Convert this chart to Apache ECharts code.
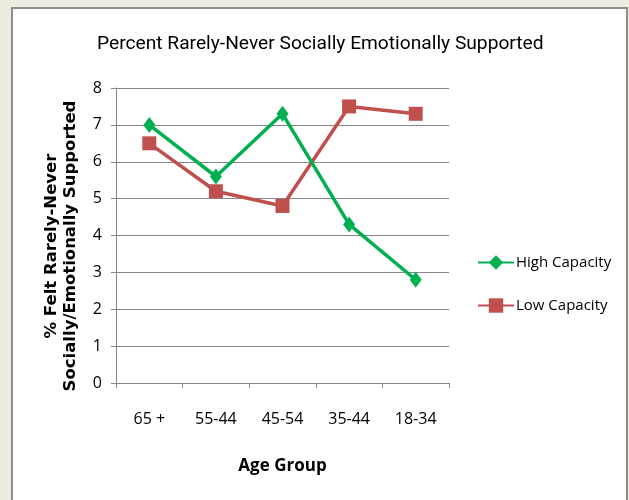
<!DOCTYPE html>
<html>
<head>
<meta charset="utf-8">
<script src="https://cdn.jsdelivr.net/npm/echarts@6/dist/echarts.min.js"></script>
<style>
  html, body { margin: 0; padding: 0; background: #eeebe0; }
  #chart { width: 629px; height: 500px; }
</style>
</head>
<body>
<div id="chart"></div>
<script>
// Age groups along the x axis
const ageGroups = ['65 +', '55-44', '45-54', '35-44', '18-34'];
// Percent who felt rarely or never socially/emotionally supported
const highCapacity = [7.0, 5.6, 7.3, 4.3, 2.8];
const lowCapacity = [6.5, 5.2, 4.8, 7.5, 7.3];
// Value axis range
const yMin = 0, yMax = 8, yStep = 1;

const sans = '"Open Sans", Roboto, sans-serif';
const titleFont = 'Roboto, "Open Sans", sans-serif';
const green = '#00b050';
const red = '#c0504d';

const chart = echarts.init(document.getElementById('chart'), null, { renderer: 'canvas' });
chart.setOption({
  backgroundColor: '#eeebe0',
  animation: false,
  title: {
    text: 'Percent Rarely-Never Socially Emotionally Supported',
    left: 97,
    top: 35,
    padding: 0,
    textStyle: { fontFamily: titleFont, fontSize: 19.2, fontWeight: 'normal', color: '#000' }
  },
  graphic: [
    {
      type: 'rect', z: -10, silent: true,
      shape: { x: 12, y: 8, width: 615, height: 500 },
      style: { fill: '#ffffff', stroke: '#8c8c8c', lineWidth: 2 }
    },
    {
      type: 'text', silent: true,
      x: 61, y: 246, rotation: Math.PI / 2,
      style: {
        text: '% Felt Rarely-Never\nSocially/Emotionally Supported',
        fontFamily: '"DejaVu Sans", Verdana, sans-serif',
        fontWeight: 'bold', fontSize: 16.5, lineHeight: 19,
        fill: '#000', align: 'center', verticalAlign: 'middle'
      }
    }
  ],
  legend: {
    orient: 'vertical',
    left: 472,
    top: 250,
    itemGap: 28,
    itemWidth: 36,
    itemHeight: 18,
    textStyle: { fontFamily: sans, fontSize: 15, color: '#000', padding: [0, 0, 0, -3] },
    data: ['High Capacity', 'Low Capacity']
  },
  grid: { left: 116, top: 88, right: 180, bottom: 117, containLabel: false },
  xAxis: {
    type: 'category',
    data: ageGroups,
    boundaryGap: true,
    name: 'Age Group',
    nameLocation: 'middle',
    nameGap: 75,
    nameTextStyle: { fontFamily: sans, fontSize: 17, fontWeight: 'bold', color: '#000' },
    axisLine: { lineStyle: { color: '#868686', width: 1 } },
    axisTick: { show: true, length: 5, alignWithLabel: false, lineStyle: { color: '#868686' } },
    axisLabel: { fontFamily: sans, fontSize: 16, color: '#000', margin: 28 },
    splitLine: { show: false }
  },
  yAxis: {
    type: 'value',
    min: yMin, max: yMax, interval: yStep,
    axisLine: { show: true, lineStyle: { color: '#868686', width: 1 } },
    axisTick: { show: true, length: 5, lineStyle: { color: '#868686' } },
    axisLabel: { fontFamily: sans, fontSize: 16, color: '#000', margin: 14 },
    splitLine: { show: true, lineStyle: { color: '#868686', width: 1 } }
  },
  series: [
    {
      name: 'High Capacity',
      type: 'line',
      data: highCapacity,
      symbol: 'diamond',
      symbolSize: [12, 16],
      lineStyle: { color: green, width: 3.5 },
      itemStyle: { color: green },
      z: 3
    },
    {
      name: 'Low Capacity',
      type: 'line',
      data: lowCapacity,
      symbol: 'rect',
      symbolSize: 14,
      lineStyle: { color: red, width: 3.5 },
      itemStyle: { color: red },
      z: 2
    }
  ]
});
</script>
</body>
</html>
